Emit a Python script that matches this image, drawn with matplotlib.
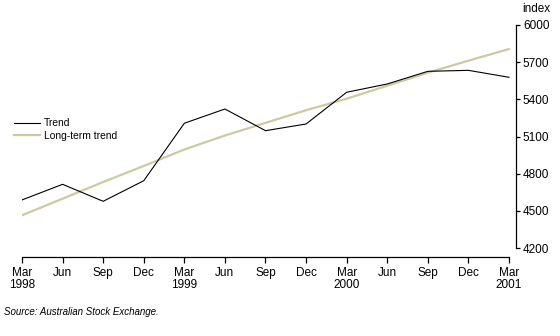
import numpy as np
import matplotlib.pyplot as plt

plt.rcParams['font.family'] = ['Liberation Sans', 'DejaVu Sans']

# quarters Mar 1998 .. Mar 2001
quarters = ['Mar\n1998', 'Jun', 'Sep', 'Dec', 'Mar\n1999', 'Jun', 'Sep', 'Dec',
            'Mar\n2000', 'Jun', 'Sep', 'Dec', 'Mar\n2001']
trend = [4588, 4714, 4577, 4743, 5207, 5322, 5147, 5201, 5457, 5524, 5626, 5634, 5578]
longterm = [4464, 4598, 4733, 4862, 4995, 5108, 5210, 5312, 5405, 5510, 5615, 5712, 5806]
yticks = [4200, 4500, 4800, 5100, 5400, 5700, 6000]

fig = plt.figure(figsize=(5.6, 3.36), dpi=100)
ax = fig.add_axes([22/560, 1-257/336, (516-22)/560, (257-25)/336])

x = np.arange(len(trend))
ax.plot(x, longterm, color='#cdc9a3', lw=1.6, label='Long-term trend', zorder=2)
ax.plot(x, trend, color='black', lw=0.8, label='Trend', zorder=3)

ax.set_xlim(0, 12 + 7/40.58)
ax.set_ylim(4200 - 9/0.1239, 6000)

for s in ['top', 'left']:
    ax.spines[s].set_visible(False)
ax.spines['bottom'].set_bounds(0, 12)
ax.spines['right'].set_bounds(4200, 6000)
ax.spines['bottom'].set_linewidth(0.9)
ax.spines['right'].set_linewidth(0.9)

ax.set_xticks(x)
ax.set_xticklabels(quarters, fontsize=8.5, linespacing=1.0)
ax.yaxis.tick_right()
ax.set_yticks(yticks)
ax.set_yticklabels([str(v) for v in yticks], fontsize=8.5)
ax.tick_params(axis='x', length=4, width=0.9, pad=3)
ax.tick_params(axis='y', length=3, width=0.9, pad=2)

fig.text(522/560, 1-9/336, 'index', fontsize=8.5, va='center', ha='left')

handles, labels = ax.get_legend_handles_labels()
ax.legend(handles[::-1], labels[::-1], loc='upper left', bbox_to_anchor=(-0.025, 0.615),
          frameon=False, fontsize=7.4, handlelength=2.6, handletextpad=0.35,
          labelspacing=0.25, borderaxespad=0)

fig.text(4/560, 1-312/336, 'Source: Australian Stock Exchange.', fontsize=7,
         style='italic', va='center', ha='left')

fig.savefig('out.png', dpi=100)
